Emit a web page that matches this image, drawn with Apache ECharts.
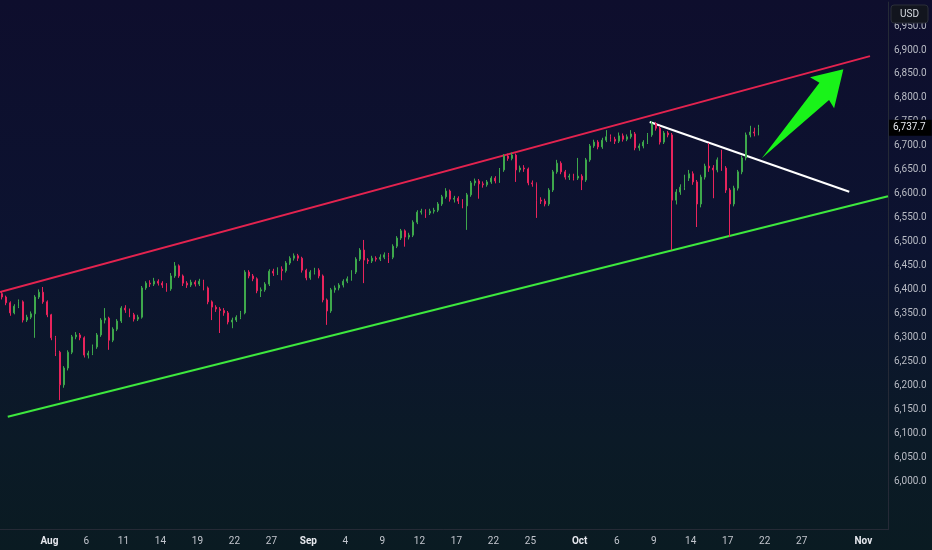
<!DOCTYPE html>
<html>
<head>
<meta charset="utf-8">
<script src="https://cdn.jsdelivr.net/npm/echarts@6/dist/echarts.min.js"></script>
<style>
html,body{margin:0;padding:0;}
#c{width:932px;height:550px;background:linear-gradient(180deg,#0e0e2d 0%,#0c1330 45%,#0b1a27 80%,#0a1b22 100%);}
</style>
</head>
<body>
<div id="c"></div>
<script>
// ---- data ----
const tradingDays = [
 'Jul 28','Jul 29','Jul 30','Jul 31',
 'Aug 1','Aug 4','Aug 5','Aug 6','Aug 7','Aug 8','Aug 11','Aug 12','Aug 13','Aug 14','Aug 15','Aug 18','Aug 19','Aug 20','Aug 21','Aug 22','Aug 25','Aug 26','Aug 27','Aug 28','Aug 29',
 'Sep 1','Sep 2','Sep 3','Sep 4','Sep 5','Sep 8','Sep 9','Sep 10','Sep 11','Sep 12','Sep 15','Sep 16','Sep 17','Sep 18','Sep 19','Sep 22','Sep 23','Sep 24','Sep 25','Sep 26','Sep 29','Sep 30',
 'Oct 1','Oct 2','Oct 3','Oct 6','Oct 7','Oct 8','Oct 9','Oct 10','Oct 13','Oct 14','Oct 15','Oct 16','Oct 17','Oct 20','Oct 21','Oct 22','Oct 23','Oct 24','Oct 27','Oct 28','Oct 29','Oct 30','Oct 31',
 'Nov 3','Nov 4'
];
const barsPerDay = 3;
const tickLabels = {
 'Aug 1':'Aug','Aug 6':'6','Aug 11':'11','Aug 14':'14','Aug 19':'19','Aug 22':'22','Aug 27':'27',
 'Sep 1':'Sep','Sep 4':'4','Sep 9':'9','Sep 12':'12','Sep 17':'17','Sep 22':'22','Sep 25':'25',
 'Oct 1':'Oct','Oct 6':'6','Oct 9':'9','Oct 14':'14','Oct 17':'17','Oct 22':'22','Oct 27':'27',
 'Nov 3':'Nov'
};
const monthLabels = ['Aug','Sep','Oct','Nov'];

const opens = [
6392,6385,6373,6352,6366,6375,6337,6343,6350,6385,
6395,6375,6348,6300,6270,6202,6237,6270,6302,6306,
6300,6264,6268,6281,6306,6337,6341,6295,6318,6335,
6362,6358,6348,6339,6343,6404,6414,6412,6418,6414,
6410,6402,6429,6450,6429,6414,6410,6416,6412,6418,
6404,6375,6364,6360,6357,6352,6333,6337,6343,6352,
6437,6429,6423,6398,6400,6412,6439,6435,6443,6440,
6456,6466,6471,6466,6441,6425,6437,6441,6429,6379,
6356,6400,6404,6410,6418,6423,6437,6464,6483,6462,
6460,6466,6464,6468,6473,6468,6491,6508,6523,6510,
6514,6541,6562,6564,6560,6564,6566,6579,6594,6606,
6589,6591,6585,6575,6598,6623,6627,6621,6619,6625,
6633,6627,6650,6679,6674,6681,6650,6654,6652,6623,
6621,6587,6585,6579,6608,6646,6664,6646,6635,6637,
6633,6637,6629,6671,6700,6708,6698,6712,6719,6714,
6710,6721,6714,6719,6725,6696,6700,6708,6723,6746,
6737,6708,6727,6723,6587,6604,6614,6633,6642,6625,
6579,6635,6658,6654,6650,6671,6654,6608,6579,6612,
6646,6675,6723,6729,6727
];
const closes = [
6385,6373,6352,6366,6375,6337,6343,6350,6385,6395,
6375,6348,6300,6270,6202,6237,6270,6302,6306,6300,
6264,6268,6281,6306,6337,6341,6295,6318,6335,6362,
6358,6348,6339,6343,6404,6414,6412,6418,6414,6410,
6402,6429,6450,6429,6414,6410,6416,6412,6418,6404,
6375,6364,6360,6357,6352,6333,6337,6343,6352,6437,
6429,6423,6398,6400,6412,6439,6435,6443,6440,6456,
6466,6471,6466,6441,6425,6437,6441,6429,6379,6356,
6400,6404,6410,6418,6423,6437,6464,6483,6462,6460,
6466,6464,6468,6473,6468,6491,6508,6523,6510,6514,
6541,6562,6564,6560,6564,6566,6579,6594,6606,6589,
6591,6585,6575,6598,6623,6627,6621,6619,6625,6633,
6627,6650,6679,6674,6681,6650,6654,6652,6623,6621,
6587,6585,6579,6608,6646,6664,6646,6635,6637,6633,
6637,6629,6671,6700,6708,6698,6712,6719,6714,6710,
6721,6714,6719,6725,6696,6700,6708,6723,6746,6737,
6708,6727,6723,6587,6604,6614,6633,6642,6625,6579,
6635,6658,6654,6650,6671,6654,6608,6579,6612,6646,
6675,6723,6729,6727,6737.7
];
const lows = [
6380,6368,6346,6349,6362,6332,6333,6339,6300,6381,
6371,6343,6295,6262,6170,6196,6232,6266,6297,6295,
6259,6257,6264,6277,6302,6330,6275,6291,6314,6331,
6352,6343,6334,6335,6340,6400,6406,6408,6409,6404,
6396,6398,6425,6425,6408,6404,6406,6407,6408,6399,
6370,6337,6354,6310,6346,6328,6320,6333,6339,6349,
6424,6418,6393,6385,6396,6408,6429,6431,6420,6436,
6452,6461,6460,6436,6420,6421,6432,6424,6374,6327,
6352,6394,6399,6405,6414,6419,6433,6460,6414,6454,
6456,6459,6460,6464,6456,6464,6487,6504,6490,6505,
6510,6537,6557,6550,6556,6559,6562,6575,6590,6584,
6582,6579,6570,6525,6594,6617,6590,6613,6615,6621,
6622,6623,6646,6669,6670,6625,6645,6646,6618,6615,
6550,6579,6574,6575,6604,6642,6641,6630,6629,6628,
6629,6608,6625,6667,6696,6693,6694,6708,6709,6704,
6706,6709,6710,6715,6691,6690,6695,6704,6719,6732,
6703,6704,6718,6483,6578,6598,6608,6627,6619,6531,
6572,6630,6646,6591,6645,6648,6602,6510,6574,6607,
6641,6670,6718,6720,6722
];
const highs = [
6397,6388,6376,6370,6380,6378,6348,6355,6389,6401,
6406,6378,6350,6304,6273,6241,6274,6306,6312,6310,
6303,6273,6286,6310,6341,6362,6344,6322,6339,6366,
6368,6361,6352,6348,6408,6418,6420,6425,6422,6418,
6414,6435,6458,6453,6432,6418,6421,6420,6423,6421,
6407,6378,6368,6364,6362,6356,6342,6347,6356,6441,
6441,6433,6426,6405,6416,6443,6444,6447,6449,6460,
6470,6476,6475,6469,6444,6441,6446,6445,6432,6382,
6404,6409,6414,6422,6428,6441,6468,6487,6504,6466,
6471,6470,6474,6478,6477,6495,6512,6527,6526,6519,
6545,6566,6569,6568,6569,6571,6583,6598,6612,6609,
6596,6595,6589,6602,6627,6632,6631,6626,6629,6637,
6637,6654,6683,6684,6686,6684,6659,6660,6655,6628,
6624,6593,6590,6612,6650,6671,6668,6650,6642,6642,
6675,6641,6675,6704,6713,6712,6717,6733,6724,6719,
6728,6726,6724,6733,6729,6705,6712,6727,6752,6750,
6741,6731,6731,6727,6610,6620,6640,6650,6647,6629,
6640,6663,6706,6660,6676,6692,6658,6612,6617,6650,
6680,6728,6742,6738,6744
];
const lastPrice = 6737.7;

// drawings, in (trading-day index from Aug 1, price)
const upperDays = [-4, 66.54];
const upperPrices = [6395.5, 6887.2];
const lowerDays = [-3.37, 68];
const lowerPrices = [6135.5, 6595];
const trendDays = [48.68, 64.86];
const trendPrices = [6749.9, 6604.6];
const arrowDays = [57.77, 62.44, 61.68, 64.38, 63.63, 63.22];
const arrowPrices = [6674.2, 6831.8, 6843.1, 6859.8, 6778.5, 6795.8];

// y-axis ticks
const yMin = 5900, yMax = 7000, yStep = 50, yLabelMin = 6000, yLabelMax = 6950;

// ---- build ----
const categories = [];
tradingDays.forEach(d => { for (let k = 0; k < barsPerDay; k++) categories.push(d + '|' + k); });
const candleData = opens.map((o, i) => [o, closes[i], lows[i], highs[i]]);
const firstDayIdx = tradingDays.indexOf('Aug 1');
const dayMin = -firstDayIdx, dayMax = tradingDays.length - firstDayIdx;

function fmtPrice(v, dec) {
  const p = v.toFixed(dec).split('.');
  return p[0].replace(/\B(?=(\d{3})+(?!\d))/g, ',') + '.' + p[1];
}
function tickOf(v) {
  const [d, k] = v.split('|');
  return k === '0' && tickLabels[d] ? tickLabels[d] : null;
}

const RED = '#e8245c', GREEN = '#3ea84c';
const chart = echarts.init(document.getElementById('c'), null, {renderer: 'canvas'});
chart.setOption({
  backgroundColor: 'transparent',
  animation: false,
  textStyle: {fontFamily: 'Roboto, "Noto Sans", sans-serif'},
  grid: {left: -1.84, right: 44, top: 2.03, bottom: 20.3},
  xAxis: [{
    type: 'category', data: categories, boundaryGap: true,
    axisLine: {show: true, onZero: false, lineStyle: {color: '#252a36', width: 1}},
    axisTick: {show: false}, splitLine: {show: false},
    axisLabel: {
      interval: (i, v) => tickOf(v) !== null,
      formatter: v => { const t = tickOf(v); if (t === null) return ''; return monthLabels.includes(t) ? '{m|' + t + '}' : '{d|' + t + '}'; },
      margin: 7, padding: [0, 4, 0, 0],
      rich: {
        m: {color: '#e6e8ee', fontSize: 10, fontWeight: 'bold', fontFamily: 'Roboto, sans-serif'},
        d: {color: '#c3c6ce', fontSize: 10, fontFamily: 'Roboto, sans-serif'}
      }
    }
  }, {
    type: 'value', min: dayMin, max: dayMax, show: false,
    axisLine: {show: false, onZero: false}
  }],
  yAxis: [{
    type: 'value', position: 'right', min: yMin, max: yMax, interval: yStep,
    splitLine: {show: false}, axisTick: {show: false},
    axisLine: {show: true, onZero: false, lineStyle: {color: '#252a36', width: 1}},
    axisLabel: {
      color: '#b8bbc4', fontSize: 10, margin: 6,
      formatter: v => (v < yLabelMin || v > yLabelMax) ? '' : fmtPrice(v, 1)
    }
  }],
  series: [{
    type: 'candlestick', xAxisIndex: 0, yAxisIndex: 0, data: candleData, z: 5,
    barWidth: 1.4, silent: true,
    itemStyle: {color: GREEN, color0: RED, borderColor: GREEN, borderColor0: RED, borderWidth: 1},
    markLine: {
      symbol: ['none', 'none'], silent: true, animation: false,
      lineStyle: {color: 'rgba(0,0,0,0)', width: 1},
      label: {show: true, position: 'end', distance: 1, formatter: () => fmtPrice(lastPrice, 1),
        backgroundColor: '#000000', color: '#e8eaf0', fontSize: 10, padding: [3, 6, 3, 4]},
      data: [{yAxis: lastPrice}]
    }
  }, {
    type: 'line', xAxisIndex: 1, yAxisIndex: 0, silent: true, symbol: 'none', z: 3,
    data: upperDays.map((d, i) => [d, upperPrices[i]]),
    lineStyle: {color: '#e3234f', width: 2}
  }, {
    type: 'line', xAxisIndex: 1, yAxisIndex: 0, silent: true, symbol: 'none', z: 3,
    data: lowerDays.map((d, i) => [d, lowerPrices[i]]),
    lineStyle: {color: '#3ee83e', width: 2}
  }, {
    type: 'line', xAxisIndex: 1, yAxisIndex: 0, silent: true, symbol: 'none', z: 3,
    data: trendDays.map((d, i) => [d, trendPrices[i]]),
    lineStyle: {color: '#ffffff', width: 2}
  }, {
    type: 'custom', xAxisIndex: 1, yAxisIndex: 0, silent: true, z: 4,
    data: [[arrowDays[0], arrowPrices[0]]],
    renderItem: (params, api) => ({
      type: 'polygon',
      shape: {points: arrowDays.map((d, i) => api.coord([d, arrowPrices[i]]))},
      style: {fill: '#19f319'}
    })
  }],
  graphic: [{
    type: 'rect', shape: {x: 891, y: 5, width: 37, height: 18, r: 3},
    style: {fill: '#12151e', stroke: '#2a2e39', lineWidth: 1}, z: 100
  }, {
    type: 'text', x: 909.5, y: 14, z: 101,
    style: {text: 'USD', fill: '#d8dbe2', font: '10px Roboto, sans-serif',
      align: 'center', verticalAlign: 'middle', textAlign: 'center', textVerticalAlign: 'middle'}
  }]
});
</script>
</body>
</html>
